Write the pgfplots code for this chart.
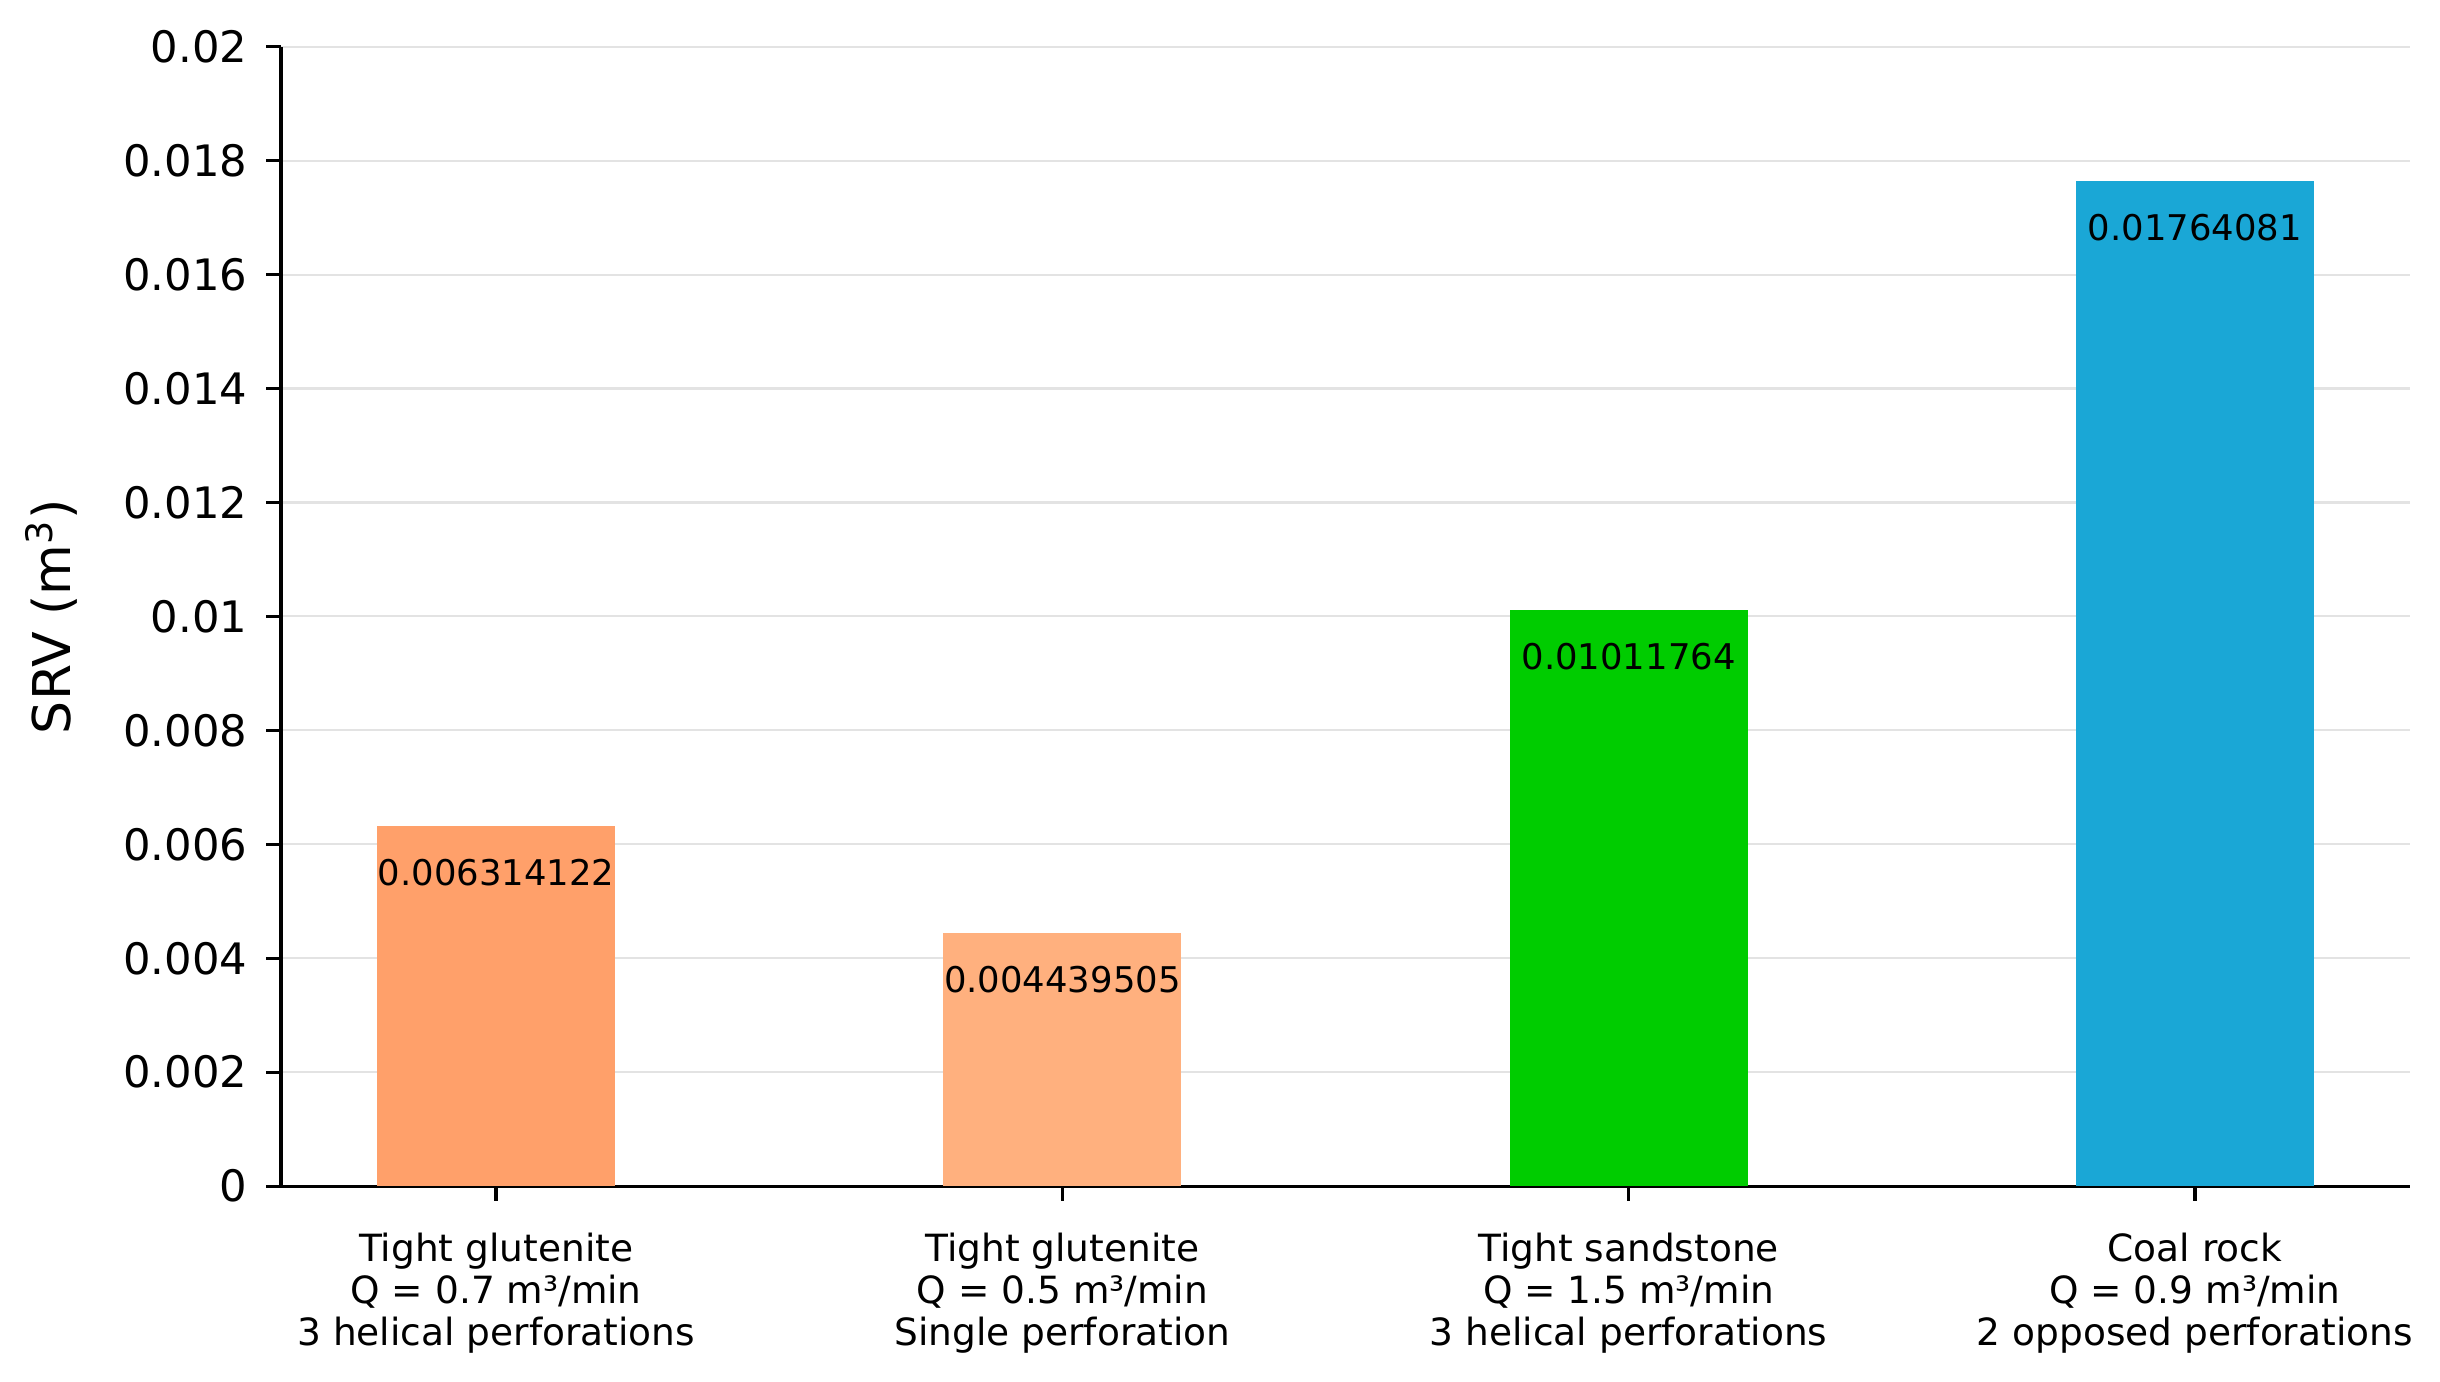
\documentclass[border=0pt]{standalone}
\usepackage{pgfplots}
\pgfplotsset{compat=1.18}
\usepackage{fontspec}
\setmainfont{DejaVu Sans}
\definecolor{c1}{HTML}{FFA06A}
\definecolor{c2}{HTML}{FFB07E}
\definecolor{c3}{HTML}{00CC00}
\definecolor{c4}{HTML}{1AA7D6}
\definecolor{gridgray}{HTML}{E3E3E3}
\begin{document}
\begin{tikzpicture}
\begin{axis}[
 scale only axis, width=511pt, height=273.5pt,
 xmin=-0.38, xmax=3.38, ymin=0, ymax=0.02,
 axis x line=bottom, axis y line=left,
 axis line style={-, line width=0.8pt, black},
 tick align=outside, major tick length=3.5pt,
 tick style={line width=0.8pt, black},
 xtick={0,1,2,3},
 xticklabels={{Tight glutenite\\Q = 0.7 m³/min\\3 helical perforations},
              {Tight glutenite\\Q = 0.5 m³/min\\Single perforation},
              {Tight sandstone\\Q = 1.5 m³/min\\3 helical perforations},
              {Coal rock\\Q = 0.9 m³/min\\2 opposed perforations}},
 xticklabel style={align=center, anchor=north, inner sep=0pt, yshift=-7.6pt, font=\fontsize{9}{10.1}\selectfont},
 ytick={0,0.002,0.004,0.006,0.008,0.01,0.012,0.014,0.016,0.018,0.02},
 yticklabels={0,0.002,0.004,0.006,0.008,0.01,0.012,0.014,0.016,0.018,0.02},
 scaled y ticks=false,
 yticklabel style={anchor=east, inner sep=0pt, xshift=-4.4pt, font=\fontsize{10.4}{12}\selectfont},
 ymajorgrids, major grid style={line width=0.5pt, color=gridgray},
 ylabel={SRV (m\textsuperscript{3})},
 every axis y label/.style={at={(axis description cs:0,0.5)}, xshift=-55.2pt, rotate=90, anchor=center, font=\fontsize{12.5}{15}\selectfont},
]
\addplot[ybar, bar width=0.42, bar shift=0pt, fill=c1, draw=none, nodes near coords, point meta=explicit symbolic,
  every node near coord/.append style={anchor=center, yshift=-11.2pt, font=\fontsize{8.5}{10}\selectfont, inner sep=0pt, text=black}]
  coordinates {(0,0.006314122) [0.006314122]};
\addplot[ybar, bar width=0.42, bar shift=0pt, fill=c2, draw=none, nodes near coords, point meta=explicit symbolic,
  every node near coord/.append style={anchor=center, yshift=-11.2pt, font=\fontsize{8.5}{10}\selectfont, inner sep=0pt, text=black}]
  coordinates {(1,0.004439505) [0.004439505]};
\addplot[ybar, bar width=0.42, bar shift=0pt, fill=c3, draw=none, nodes near coords, point meta=explicit symbolic,
  every node near coord/.append style={anchor=center, yshift=-11.2pt, font=\fontsize{8.5}{10}\selectfont, inner sep=0pt, text=black}]
  coordinates {(2,0.01011764) [0.01011764]};
\addplot[ybar, bar width=0.42, bar shift=0pt, fill=c4, draw=none, nodes near coords, point meta=explicit symbolic,
  every node near coord/.append style={anchor=center, yshift=-11.2pt, font=\fontsize{8.5}{10}\selectfont, inner sep=0pt, text=black}]
  coordinates {(3,0.01764081) [0.01764081]};
\end{axis}
\pgfresetboundingbox
\path[use as bounding box] ([shift={(-67.44pt,-47.0pt)}]current axis.south west) rectangle ([shift={(7.2pt,11.2pt)}]current axis.north east);
\end{tikzpicture}
\end{document}
